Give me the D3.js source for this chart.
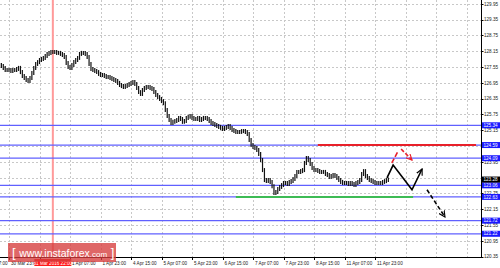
<!DOCTYPE html>
<html><head><meta charset="utf-8">
<script src="https://cdn.jsdelivr.net/npm/d3@7"></script>
<style>body{margin:0;background:#fff;overflow:hidden;} svg{display:block;}</style>
</head><body>
<svg id="c" width="500" height="268"></svg>
<script>
// ---- data ----
const firstBar = -5;
const closes = [
127.63,127.59,127.52,127.44,127.44,127.44,127.40,127.44,127.44,127.48,
127.52,127.36,127.21,127.14,127.06,127.02,127.14,127.33,127.52,127.67,
127.74,127.82,127.86,127.90,127.97,128.05,128.09,128.12,128.12,128.12,
128.09,128.09,128.05,128.01,127.93,127.71,127.55,127.52,127.63,127.74,
127.82,127.90,128.05,128.09,128.09,128.05,127.93,127.67,127.48,127.44,
127.40,127.36,127.29,127.25,127.25,127.21,127.17,127.17,127.14,127.10,
127.06,127.02,126.95,126.87,126.83,126.79,126.83,126.87,126.91,126.95,
126.98,126.91,126.76,126.60,126.53,126.68,126.76,126.79,126.79,126.76,
126.72,126.60,126.49,126.41,126.34,126.26,126.18,125.92,125.69,125.54,
125.43,125.47,125.50,125.54,125.62,125.58,125.47,125.50,125.62,125.66,
125.69,125.62,125.58,125.58,125.62,125.54,125.58,125.62,125.62,125.58,
125.50,125.43,125.39,125.35,125.31,125.28,125.24,125.20,125.24,125.28,
125.31,125.24,125.16,125.12,125.09,125.09,125.09,125.12,125.12,125.09,
125.01,124.78,124.59,124.52,124.48,124.40,124.25,124.02,123.64,123.26,
123.22,123.26,123.19,123.03,122.77,122.81,122.92,123.00,123.07,123.15,
123.15,123.11,123.19,123.22,123.30,123.41,123.57,123.57,123.60,123.64,
123.91,124.10,124.02,123.87,123.72,123.64,123.64,123.60,123.57,123.57,
123.57,123.49,123.45,123.38,123.41,123.45,123.41,123.34,123.26,123.19,
123.15,123.15,123.15,123.11,123.15,123.11,123.07,123.15,123.19,123.26,
123.49,123.60,123.41,123.34,123.26,123.22,123.19,123.15,123.15,123.15,
123.15,123.19,123.22,123.26,123.28
];
const tickBars   = [-16,0,16,32,48,64,80,96,112,128,144,160,176,192];
const tickLabels = ["30 Mar 07:00","30 Mar 23:00","31 Mar 15:00","1 Apr 07:00","1 Apr 23:00","4 Apr 15:00",
                    "5 Apr 07:00","5 Apr 23:00","6 Apr 15:00","7 Apr 07:00","7 Apr 23:00","8 Apr 15:00",
                    "11 Apr 07:00","11 Apr 23:00"];
const gridBars   = [0,16,32,48,64,80,96,112,128,144,160,176,192,208,224,240];
const gridPrices = [129.95,129.35,128.75,128.15,127.55,126.95,126.35,125.75,125.15,124.55,
                    123.95,123.35,122.75,122.15,121.55,120.95,120.35];
const levels     = [125.34,124.59,124.09,123.06,122.62,121.72,121.22];
const levelLabels= ["125.34","124.59","124.09","123.06","122.63","121.72","121.22"];
const currentPrice = 123.28;
const resistance = 124.59, resistanceBars = [162, 245];
const support = 122.62, supportBars = [119, 212];
const markerBar = 23, markerLabel = "31 Mar 2016 22:00";
const blackPath  = [[198.3,123.34],[201.5,123.83],[211.4,122.89],[216.7,123.68]];
const blackDash  = [[219.3,122.89],[228.7,121.86]];
const redUp      = [[200.8,123.91],[204.1,124.36]];
const redDash    = [[205.7,124.44],[211.4,124.02]];

// ---- drawing ----
const svg = d3.select("#c");
const W = 481, H = 257;
const x = d3.scaleLinear().domain([0,16]).range([9,39.5]);
const y = d3.scaleLinear().domain([120.35,129.95]).range([256.7,3.9]);

svg.append("rect").attr("width",500).attr("height",268).attr("fill","#fff");

const defs = svg.append("defs");
defs.append("clipPath").attr("id","plot").append("rect").attr("x",0).attr("y",0).attr("width",W).attr("height",H);
function mk(id,col){
  defs.append("marker").attr("id",id).attr("viewBox","0 0 8 8").attr("refX",7).attr("refY",4)
    .attr("markerWidth",7).attr("markerHeight",7).attr("markerUnits","userSpaceOnUse").attr("orient","auto")
    .append("path").attr("d","M0,0.5 L7,4 L0,7.5").attr("fill","none").attr("stroke",col).attr("stroke-width",1.3);
}
mk("ab","#000"); mk("ar","#e8202a");

const g = svg.append("g").attr("clip-path","url(#plot)");

// grid
g.selectAll(".hg").data(gridPrices).enter().append("line")
  .attr("x1",0).attr("x2",W).attr("y1",d=>Math.round(y(d))+0.5).attr("y2",d=>Math.round(y(d))+0.5)
  .attr("stroke","#c8c8c8").attr("stroke-width",1).attr("stroke-dasharray","2,2");
g.selectAll(".vg").data(gridBars).enter().append("line")
  .attr("y1",0).attr("y2",H).attr("x1",d=>Math.round(x(d))+0.5).attr("x2",d=>Math.round(x(d))+0.5)
  .attr("stroke","#c8c8c8").attr("stroke-width",1).attr("stroke-dasharray","2,2");

// red vertical marker
g.append("line").attr("x1",x(markerBar)).attr("x2",x(markerBar)).attr("y1",0).attr("y2",H)
  .attr("stroke","#ff9a9a").attr("stroke-width",2);

// blue levels
g.selectAll(".lv").data(levels).enter().append("line")
  .attr("x1",0).attr("x2",W).attr("y1",d=>y(d)).attr("y2",d=>y(d))
  .attr("stroke","#6060ff").attr("stroke-width",1.3);

// support / resistance
g.append("line").attr("x1",x(resistanceBars[0])).attr("x2",x(resistanceBars[1]))
  .attr("y1",y(resistance)).attr("y2",y(resistance)).attr("stroke","#e8202a").attr("stroke-width",2);
g.append("line").attr("x1",x(supportBars[0])).attr("x2",x(supportBars[1]))
  .attr("y1",y(support)).attr("y2",y(support)).attr("stroke","#3dbb55").attr("stroke-width",2);

// bars
const bars = closes.map((c,k)=>({i:firstBar+k, o: k>0?closes[k-1]:c, c:c}));
g.selectAll(".bar").data(bars).enter().append("line")
  .attr("x1",d=>x(d.i)).attr("x2",d=>x(d.i))
  .attr("y1",d=>y(Math.max(d.o,d.c))-2).attr("y2",d=>y(Math.min(d.o,d.c))+2)
  .attr("stroke","#111").attr("stroke-width",1.2);

// arrows
const ln = d3.line().x(d=>x(d[0])).y(d=>y(d[1]));
g.append("path").attr("d",ln(blackPath)).attr("fill","none").attr("stroke","#000").attr("stroke-width",1.6).attr("marker-end","url(#ab)");
g.append("path").attr("d",ln(blackDash)).attr("fill","none").attr("stroke","#000").attr("stroke-width",1.6).attr("stroke-dasharray","4,2.5").attr("marker-end","url(#ab)");
g.append("path").attr("d",ln(redUp)).attr("fill","none").attr("stroke","#e8202a").attr("stroke-width",1.6).attr("stroke-dasharray","5,2");
g.append("path").attr("d",ln(redDash)).attr("fill","none").attr("stroke","#e8202a").attr("stroke-width",1.6).attr("stroke-dasharray","4,2").attr("marker-end","url(#ar)");

// axes lines
svg.append("line").attr("x1",W+0.5).attr("x2",W+0.5).attr("y1",0).attr("y2",H+0.5).attr("stroke","#000");
svg.append("line").attr("x1",0).attr("x2",W+0.5).attr("y1",H+0.5).attr("y2",H+0.5).attr("stroke","#000");

const font = "Arial, 'Liberation Sans', sans-serif";
// right axis labels (skip the ones fully hidden behind level boxes)
const boxPrices = levels.concat([currentPrice]);
const visibleGrid = gridPrices.filter(p => !boxPrices.some(b => Math.abs(y(b)-y(p)) < 3));
svg.selectAll(".yl").data(visibleGrid).enter().append("text")
  .attr("x",484).attr("y",d=>y(d)+1.6).text(d=>d.toFixed(2))
  .attr("font-family",font).attr("font-size",4.6).attr("fill","#222");
svg.selectAll(".yt").data(gridPrices).enter().append("line")
  .attr("x1",W).attr("x2",W+2.5).attr("y1",d=>Math.round(y(d))+0.5).attr("y2",d=>Math.round(y(d))+0.5).attr("stroke","#000");

// level labels
const lb = svg.selectAll(".lb").data(levels.map((v,k)=>({v, t:levelLabels[k]}))).enter().append("g");
lb.append("rect").attr("x",W+1).attr("y",d=>y(d.v)-3).attr("width",19).attr("height",6).attr("fill","#1a1aff");
lb.append("text").attr("x",W+2.5).attr("y",d=>y(d.v)+1.7).text(d=>d.t)
  .attr("font-family",font).attr("font-size",4.6).attr("fill","#fff");
svg.append("rect").attr("x",W+1).attr("y",y(currentPrice)-3).attr("width",19).attr("height",6).attr("fill","#000");
svg.append("text").attr("x",W+2.5).attr("y",y(currentPrice)+1.7).text(currentPrice.toFixed(2))
  .attr("font-family",font).attr("font-size",4.6).attr("fill","#fff");

// bottom axis
svg.selectAll(".xt").data(tickBars).enter().append("line")
  .attr("x1",d=>Math.round(x(d))+0.5).attr("x2",d=>Math.round(x(d))+0.5).attr("y1",H).attr("y2",H+3).attr("stroke","#000");
const xl = tickBars.map((b,k)=>({b, t:tickLabels[k]})).filter(d => Math.abs(x(d.b)-x(markerBar)) > 10);
svg.selectAll(".xl").data(xl).enter().append("text")
  .attr("x",d=>x(d.b)+2).attr("y",264.5).text(d=>d.t)
  .attr("font-family",font).attr("font-size",4.6).attr("fill","#222");
// red marker label
svg.append("rect").attr("x",x(markerBar)-18.5).attr("y",259).attr("width",37).attr("height",7).attr("fill","#ff1a1a");
svg.append("text").attr("x",x(markerBar)).attr("y",264.5).attr("text-anchor","middle").text(markerLabel)
  .attr("font-family",font).attr("font-size",4.6).attr("fill","#fff");

// watermark
const wm = svg.append("g");
wm.append("rect").attr("x",8).attr("y",243).attr("width",108).attr("height",19).attr("fill","rgba(214,60,60,0.78)");
const wt = wm.append("text").attr("x",12).attr("y",257).attr("font-family",font).attr("fill","#fff");
wt.append("tspan").attr("font-size",13).text("[ ");
wt.append("tspan").attr("font-size",10.5).text("www.instaforex");
wt.append("tspan").attr("font-size",8).text(".com");
wt.append("tspan").attr("font-size",13).text(" ]");
</script>
</body></html>
